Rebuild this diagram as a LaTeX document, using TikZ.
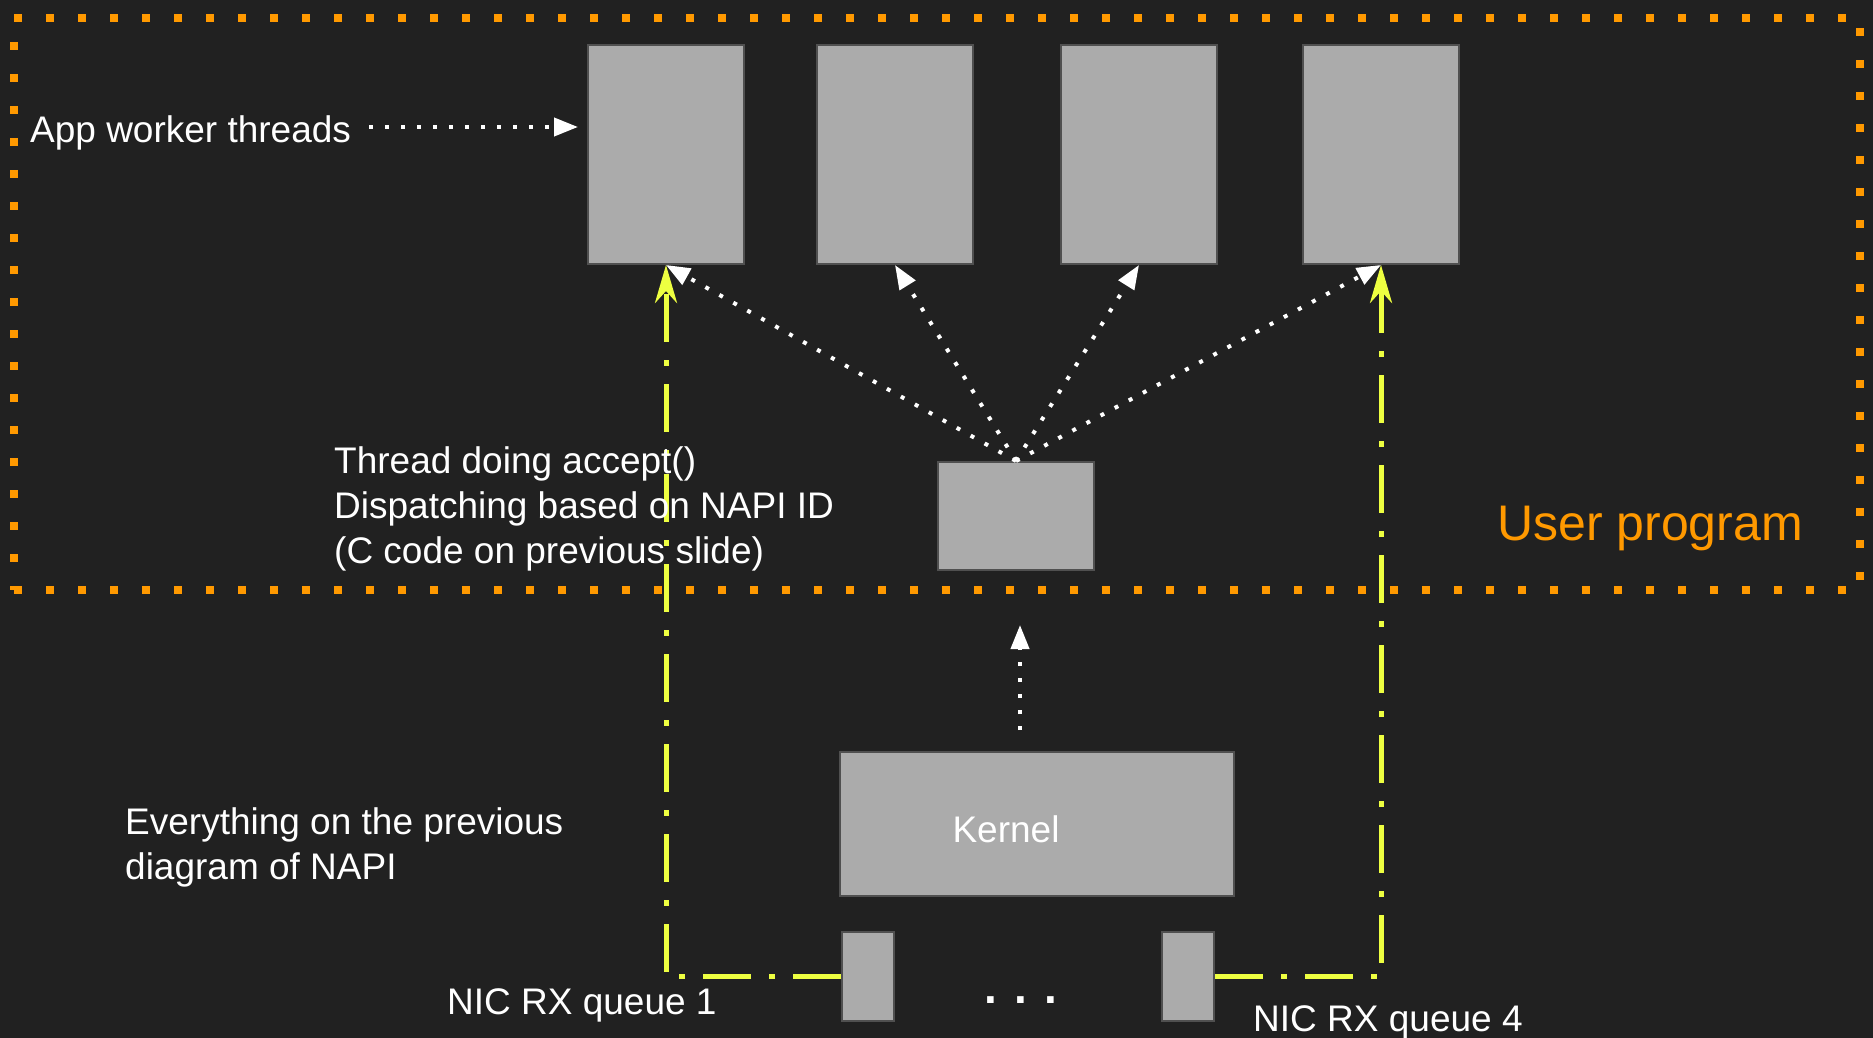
\documentclass[tikz,border=0pt]{standalone}
\usepackage{fontspec}
\setmainfont{Liberation Sans}
\usetikzlibrary{arrows.meta}
\definecolor{bgc}{HTML}{212121}
\definecolor{boxc}{HTML}{ABABAB}
\definecolor{boxb}{HTML}{505050}
\definecolor{orng}{HTML}{FF9900}
\definecolor{yelc}{HTML}{EEFF41}
\begin{document}
\begin{tikzpicture}[x=1pt,y=-1pt,
  box/.style 2 args={draw=boxb, fill=boxc, line width=2, inner sep=0, minimum width=#1, minimum height=#2},
  wbox/.style={box={156}{219}},
  frame/.style={draw=orng, line width=8, dash pattern=on 8 off 24, inner sep=0, minimum width=1846, minimum height=572},
  yl/.style={draw=yelc, line width=5, dash pattern=on 48 off 18 on 6 off 18, -{Stealth[length=38,width=22,inset=12]}},
  wd/.style={draw=white, line width=4, dash pattern=on 4 off 12, -{Triangle[length=24,width=18]}},
  txt/.style={text=white, font=\fontsize{37}{45}\selectfont, inner sep=0, anchor=west},
  txtm/.style={txt, align=left}]
\fill[bgc] (0,0) rectangle (1873,1038);
\useasboundingbox (0,0) rectangle (1873,1038);

\node[frame] (user) at (937,304) {};

\node[wbox] (w1) at (666,154.5) {};
\node[wbox] (w2) at (895,154.5) {};
\node[wbox] (w3) at (1139,154.5) {};
\node[wbox] (w4) at (1381,154.5) {};
\node[box={156}{108}] (acc) at (1016,516) {};
\node[box={394}{144}] (kern) at (1037,824) {};
\node[box={52}{89}] (q1) at (868,976.5) {};
\node[box={52}{89}] (q4) at (1188,976.5) {};

\draw[yl] (q1.west) -| (w1.south);
\draw[yl] (q4.east) -| (w4.south);
\foreach \i in {1,2,3,4} \draw[wd] (acc.north) -- (w\i.south);
\draw[wd, shorten <=21, shorten >=54] ([xshift=4]acc.south |- kern.north) -- ([xshift=4]acc.south);

\node[txt] (appl) at (30,133) {App worker threads};
\draw[wd, shorten <=18, shorten >=9] ([yshift=6]appl.east) -- ([yshift=6]w1.west |- appl.east);

\node[txtm] (acct) at (334,509) {Thread doing accept()\\Dispatching based on NAPI ID\\(C code on previous slide)};
\node[txtm] (prev) at (125,847) {Everything on the previous\\diagram of NAPI};
\node[txt] (q1l) at (447,1005) {NIC RX queue 1};
\node[txt] (q4l) at (1253,1022) {NIC RX queue 4};
\node[txt, anchor=center] (kl) at (1006,829) {Kernel};
\node[text=orng, font=\fontsize{50}{60}\selectfont, anchor=west, inner sep=0] (ul) at (1497,528) {User program};
\node[text=white, font=\fontsize{46}{50}\selectfont\bfseries, inner sep=0, anchor=center] (dots) at (1021,1000) {. . .};
\end{tikzpicture}
\end{document}
